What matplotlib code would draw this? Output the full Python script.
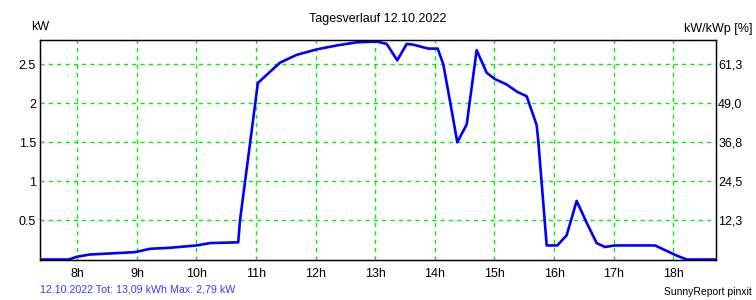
import matplotlib
matplotlib.use("Agg")
import matplotlib.pyplot as plt

plt.rcParams['font.family'] = ['Liberation Sans', 'DejaVu Sans']

# time of day in hours, power in kW
stunden = [7.374, 7.861, 7.990, 8.213, 8.968, 9.220, 9.555, 10.003, 10.227, 10.70,
           10.73, 11.03, 11.401, 11.681, 12.017, 12.352, 12.688, 13.023, 13.191,
           13.369, 13.527, 13.638, 13.889, 14.047, 14.141, 14.253, 14.376, 14.534, 14.701,
           14.869, 15.008, 15.205, 15.372, 15.540, 15.708, 15.735, 15.876, 16.054, 16.211,
           16.379, 16.547, 16.715, 16.854, 17.022, 17.470, 17.693, 17.889, 18.057, 18.225,
           18.717]
leistung = [0.0, 0.0, 0.035, 0.064, 0.094, 0.137, 0.15, 0.18, 0.21, 0.22,
            0.5, 2.26, 2.52, 2.62, 2.69, 2.74, 2.78, 2.79, 2.76,
            2.55, 2.76, 2.75, 2.70, 2.70, 2.50, 2.03, 1.50, 1.73, 2.68,
            2.39, 2.31, 2.24, 2.15, 2.09, 1.72, 1.52, 0.18, 0.18, 0.31,
            0.75, 0.47, 0.21, 0.16, 0.18, 0.18, 0.18, 0.11, 0.05, 0.0,
            0.0]

x_ticks = [8, 9, 10, 11, 12, 13, 14, 15, 16, 17, 18]
x_labels = ["8h", "9h", "10h", "11h", "12h", "13h", "14h", "15h", "16h", "17h", "18h"]
y_ticks = [0.5, 1, 1.5, 2, 2.5]
y_labels = ["0.5", "1", "1.5", "2", "2.5"]
y2_labels = ["12,3", "24,5", "36,8", "49,0", "61,3"]

fig = plt.figure(figsize=(7.56, 3.0), dpi=100)
ax = fig.add_axes([40 / 756, 1 - 259.5 / 300, 676 / 756, 219.5 / 300])

ax.plot(stunden, leistung, color="#0000ff", lw=1.9)
ax.set_xlim(7.374, 18.717)
ax.set_ylim(0, 2.81)
ax.set_xticks(x_ticks)
ax.set_xticklabels(x_labels)
ax.set_yticks(y_ticks)
ax.set_yticklabels(y_labels)
ax.grid(True, color="#00ee00", linestyle=(0, (3, 3)), lw=1)
ax.tick_params(length=0, labelsize=9, pad=3)
ax.tick_params(axis="x", pad=6)
for s in ax.spines.values():
    s.set_color("black")
    s.set_linewidth(1)

ax2 = ax.twinx()
ax2.set_ylim(ax.get_ylim())
ax2.set_yticks(y_ticks)
ax2.set_yticklabels(y2_labels)
ax2.tick_params(length=0, labelsize=9, pad=1.5)

fig.text(378 / 756, 1 - 19 / 300, "Tagesverlauf 12.10.2022", ha="center", va="center", fontsize=9)
fig.text(40 / 756, 1 - 27 / 300, "kW", ha="center", va="center", fontsize=9)
fig.text(752 / 756, 1 - 29 / 300, "kW/kWp [%]", ha="right", va="center", fontsize=9)
fig.text(40 / 756, 1 - 289 / 300, "12.10.2022 Tot: 13,09 kWh Max: 2,79 kW",
         ha="left", va="center", fontsize=7.7, color="#3a3aff")
fig.text(752 / 756, 1 - 292 / 300, "SunnyReport pinxit", ha="right", va="center", fontsize=7.5)

fig.savefig("out.png", dpi=100)
